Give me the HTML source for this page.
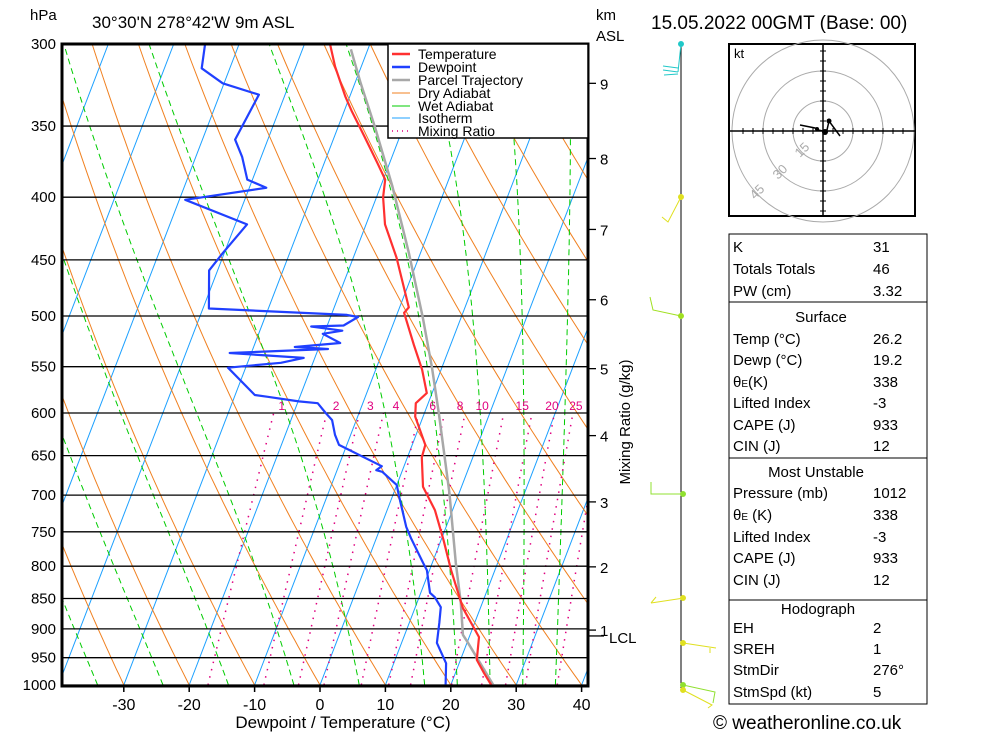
<!DOCTYPE html>
<html><head><meta charset="utf-8">
<style>
html,body{margin:0;padding:0;background:#fff;}
svg{display:block;font-family:"Liberation Sans",sans-serif;}
</style></head>
<body>
<svg id="chart" width="1000" height="733" viewBox="0 0 1000 733" xmlns="http://www.w3.org/2000/svg">
<defs><clipPath id="plotclip"><rect x="62" y="44" width="526" height="642"/></clipPath></defs>
<rect x="0" y="0" width="1000" height="733" fill="#fff"/>
<g id="bg" clip-path="url(#plotclip)"></g>
<g id="grid"></g>
<g id="series" clip-path="url(#plotclip)"></g>
<rect x="62" y="44" width="526" height="642" fill="none" stroke="#000" stroke-width="3"/>
<g id="axes"></g>

<g font-size="17">
<text x="30" y="20" font-size="15">hPa</text>
<text x="92" y="28">30°30'N  278°42'W  9m  ASL</text>
<text x="596" y="20" font-size="15">km</text>
<text x="596" y="41" font-size="15">ASL</text>
<text x="651" y="29" font-size="19">15.05.2022  00GMT  (Base: 00)</text>
</g>

<g font-size="14">
<rect x="388" y="44" width="200" height="94" fill="#fff" stroke="#000" stroke-width="1.5"/>
<line x1="392" y1="54" x2="410" y2="54" stroke="#ff3030" stroke-width="2.5"/><text x="418" y="59">Temperature</text>
<line x1="392" y1="67" x2="410" y2="67" stroke="#2040ff" stroke-width="2.5"/><text x="418" y="72">Dewpoint</text>
<line x1="392" y1="80" x2="410" y2="80" stroke="#a8a8a8" stroke-width="2.5"/><text x="418" y="85">Parcel Trajectory</text>
<line x1="392" y1="93" x2="410" y2="93" stroke="#f08020" stroke-width="1"/><text x="418" y="98">Dry Adiabat</text>
<line x1="392" y1="106" x2="410" y2="106" stroke="#00cc00" stroke-width="1"/><text x="418" y="111">Wet Adiabat</text>
<line x1="392" y1="118" x2="410" y2="118" stroke="#1ca0ff" stroke-width="1"/><text x="418" y="123">Isotherm</text>
<line x1="392" y1="131" x2="410" y2="131" stroke="#e0007f" stroke-width="1.5" stroke-dasharray="1,4"/><text x="418" y="136">Mixing Ratio</text>
</g>

<text transform="translate(630,422) rotate(-90)" text-anchor="middle" font-size="15">Mixing Ratio (g/kg)</text>

<g fill="none" stroke-width="1">
<line x1="681" y1="44" x2="681" y2="688" stroke="#000"/>
<g stroke="#20c8c8"><polyline points="681,44 678,72"/><polyline points="678,72 663,70"/><polyline points="678,68 663,66"/><polyline points="678,74 664,75"/><circle cx="681" cy="44" r="2.5" fill="#20c8c8"/></g>
<g stroke="#e0e020"><polyline points="681,197 668,222 662,217"/><circle cx="681" cy="197" r="2.5" fill="#e0e020"/></g>
<g stroke="#a0e020"><polyline points="681,316 653,310 650,297"/><circle cx="681" cy="316" r="2.5" fill="#a0e020"/></g>
<g stroke="#90e030"><polyline points="683,494 651,494 651,482"/><circle cx="683" cy="494" r="2.5" fill="#90e030"/></g>
<g stroke="#e0e020"><polyline points="684,598 651,603"/><polyline points="651,603 656,597"/><circle cx="683" cy="598" r="2.5" fill="#e0e020"/></g>
<g stroke="#e0e020"><polyline points="683,643 716,648"/><polyline points="710,648 710,653"/><circle cx="683" cy="643" r="2.5" fill="#e0e020"/></g>
<g stroke="#90e030"><polyline points="683,685 715,692 713,703"/><circle cx="683" cy="685" r="2.5" fill="#90e030"/></g>
<g stroke="#e0e020"><polyline points="683,690 712,705 708,708"/><circle cx="683" cy="690" r="2.5" fill="#e0e020"/></g>
</g>

<g>
<rect x="729" y="44" width="186" height="172" fill="#fff" stroke="#000" stroke-width="2"/>
<g fill="none" stroke="#aaa" stroke-width="1">
<circle cx="823" cy="131" r="30"/><circle cx="823" cy="131" r="60"/><circle cx="823" cy="131" r="91"/>
</g>
<line x1="729" y1="131" x2="915" y2="131" stroke="#000" stroke-width="1.5"/>
<line x1="823" y1="44" x2="823" y2="216" stroke="#000" stroke-width="1.5"/>
<g id="hodoticks" stroke="#000" stroke-width="1"></g>
<g fill="#aaa" font-size="13">
<text x="800" y="158" transform="rotate(-45 800 158)">15</text>
<text x="778" y="180" transform="rotate(-45 778 180)">30</text>
<text x="755" y="200" transform="rotate(-45 755 200)">45</text>
</g>
<text x="734" y="58" font-size="13">kt</text>
<polyline points="800,125 815,128 818,130 823,131 827,130 829,121 840,136" fill="none" stroke="#000" stroke-width="1.5"/>
<circle cx="829" cy="121" r="2.5" fill="#000"/><circle cx="825" cy="132" r="3" fill="#000"/><circle cx="817" cy="129" r="2" fill="#000"/>
</g>

<g font-size="15">
<rect x="729" y="234" width="198" height="68" fill="none" stroke="#000" stroke-width="1"/>
<rect x="729" y="302" width="198" height="156" fill="none" stroke="#000" stroke-width="1"/>
<rect x="729" y="458" width="198" height="142" fill="none" stroke="#000" stroke-width="1"/>
<rect x="729" y="600" width="198" height="104" fill="none" stroke="#000" stroke-width="1"/>
<text x="733" y="252">K</text><text x="873" y="252">31</text>
<text x="733" y="274">Totals Totals</text><text x="873" y="274">46</text>
<text x="733" y="296">PW (cm)</text><text x="873" y="296">3.32</text>
<text x="821" y="322" text-anchor="middle">Surface</text>
<text x="733" y="344">Temp (°C)</text><text x="873" y="344">26.2</text>
<text x="733" y="365">Dewp (°C)</text><text x="873" y="365">19.2</text>
<text x="733" y="387">θ<tspan font-size="10">E</tspan>(K)</text><text x="873" y="387">338</text>
<text x="733" y="408">Lifted Index</text><text x="873" y="408">-3</text>
<text x="733" y="430">CAPE (J)</text><text x="873" y="430">933</text>
<text x="733" y="451">CIN (J)</text><text x="873" y="451">12</text>
<text x="816" y="477" text-anchor="middle">Most Unstable</text>
<text x="733" y="498">Pressure (mb)</text><text x="873" y="498">1012</text>
<text x="733" y="520">θ<tspan font-size="10">E</tspan> (K)</text><text x="873" y="520">338</text>
<text x="733" y="542">Lifted Index</text><text x="873" y="542">-3</text>
<text x="733" y="563">CAPE (J)</text><text x="873" y="563">933</text>
<text x="733" y="585">CIN (J)</text><text x="873" y="585">12</text>
<text x="818" y="614" text-anchor="middle">Hodograph</text>
<text x="733" y="633">EH</text><text x="873" y="633">2</text>
<text x="733" y="654">SREH</text><text x="873" y="654">1</text>
<text x="733" y="675">StmDir</text><text x="873" y="675">276°</text>
<text x="733" y="697">StmSpd (kt)</text><text x="873" y="697">5</text>
</g>
<text x="713" y="729" font-size="19">© weatheronline.co.uk</text>
</svg>
<script>
const pressureLevels = [300,350,400,450,500,550,600,650,700,750,800,850,900,950,1000];
const tempTicks = [-30,-20,-10,0,10,20,30,40];
const kmTicks = [1,2,3,4,5,6,7,8,9];
const kmPressures = [902,801,709,626,552,485,425,372,323];
const mixingRatios = [1,2,3,4,6,8,10,15,20,25,30,40];
const mixingLabels = ["1","2","3","4","6","8","10","15","20","25"];
const tempP = [1000,978,954,914,865,806,762,720,689,652,637,604,589,578,553,528,497,492,448,421,400,387,375,357,340,331,313,300];
const tempT = [26.2,24.4,22.5,21.5,17.3,13.3,10.4,7.3,4.1,2.2,2.0,-1.2,-1.9,-0.8,-2.9,-5.6,-9.0,-8.6,-13.4,-17.1,-19.0,-19.7,-21.9,-25.4,-28.9,-30.7,-34.0,-36.1];
const dewP = [1000,960,924,890,864,848,841,806,795,759,743,700,687,670,668,663,637,625,608,600,589,587,582,580,551,546,541,536,532,530,526,517,514,510,509,501,499,493,459,444,421,402,393,387,371,359,330,323,314,300];
const dewT = [19.2,18.0,15.4,14.6,13.9,12.4,11.4,9.6,8.6,5.3,3.9,0.9,0.0,-3.0,-4.0,-3.4,-11.2,-12.4,-13.7,-15.1,-16.9,-19.9,-24.9,-27.0,-32.7,-24.9,-21.7,-33.3,-18.5,-23.7,-17.0,-20.2,-17.4,-22.4,-17.5,-15.8,-17.6,-39.1,-41.3,-40.2,-38.2,-49.1,-37.4,-40.8,-42.9,-45.0,-44.0,-50.2,-54.3,-55.2];
const parcelP = [1000,922,910,857,795,697,600,551,501,444,392,351,323,303];
const parcelT = [26.5,20.0,18.9,16.7,13.6,8.5,2.2,-1.5,-5.9,-11.8,-18.2,-24.3,-29.1,-32.6];
const wetStarts = [-34,-24,-14,-4,6,16,21,26,31,36];

const NS='http://www.w3.org/2000/svg';
function yP(p){return 44+Math.log(p/300)/Math.log(1000/300)*641;}
function xT(T,p){return 320+6.54*T+0.384*(685-yP(p));}
function mk(tag,attrs,parent){const e=document.createElementNS(NS,tag);for(const k in attrs)e.setAttribute(k,attrs[k]);parent.appendChild(e);return e;}
const bg=document.getElementById('bg'),grid=document.getElementById('grid'),series=document.getElementById('series'),axes=document.getElementById('axes');

for(let T=-130;T<=40;T+=10){
  const l=mk('line',{x1:xT(T,1000),y1:yP(1000),x2:xT(T,300),y2:yP(300),stroke:'#1ca0ff','stroke-width':1},bg);
  
  
}
for(let th=183.15;th<=553.15;th+=10){
  const pts=[];for(let p=1000;p>=300;p-=10){const T=th*Math.pow(p/1000,0.286)-273.15;pts.push(xT(T,p).toFixed(1)+','+yP(p).toFixed(1));}
  const l=mk('polyline',{points:pts.join(' '),fill:'none',stroke:'#f08020','stroke-width':1},bg);
  
  
}
for(const T0 of wetStarts){
  let T=T0+273.15;const pts=[];
  for(let p=1000;p>=300;p-=5){
    pts.push(xT(T-273.15,p).toFixed(1)+','+yP(p).toFixed(1));
    const tc=T-273.15;const es=6.112*Math.exp(17.67*tc/(tc+243.5));const rs=0.622*es/(p-es);
    const num=287*T+2.5e6*rs;const den=1004+2.5e6*2.5e6*rs*0.622/(287*T*T);
    T+= num/den/p*(-5);
  }
  const l=mk('polyline',{points:pts.join(' '),fill:'none',stroke:'#00cc00','stroke-width':1,'stroke-dasharray':'6,4'},bg);
  
  
}
function tw(w,p){const e=w*p/(622+w);const L=Math.log(e/6.112);return 243.5*L/(17.67-L);}
mixingRatios.forEach((w,i)=>{
  const pts=[];for(let p=1000;p>=600;p-=10){pts.push(xT(tw(w,p),p).toFixed(1)+','+yP(p).toFixed(1));}
  const l=mk('polyline',{points:pts.join(' '),fill:'none',stroke:'#e0007f','stroke-width':1.5,'stroke-dasharray':'1.5,6'},bg);
  
  
  if(i<mixingLabels.length){
    const t=mk('text',{x:xT(tw(w,600),600)+8+i*1.5,y:yP(600)-3,'font-size':12,fill:'#e0007f','text-anchor':'middle'},series);
    t.textContent=mixingLabels[i];
    
    
  }
});
pressureLevels.forEach(p=>{
  const y=yP(p);
  const l=mk('line',{x1:62,y1:y,x2:588,y2:y,stroke:'#000','stroke-width':1.3},grid);
  
  
  const t=mk('text',{x:56,y:y+5,'font-size':15,'text-anchor':'end'},axes);
  t.textContent=p;
  
  
});
tempTicks.forEach(T=>{
  const x=xT(T,1000);
  mk('line',{x1:x,y1:686,x2:x,y2:692,stroke:'#000','stroke-width':1.5},axes);
  const t=mk('text',{x:x,y:710,'font-size':16,'text-anchor':'middle'},axes);
  t.textContent=T;
  
  
});
const xt=mk('text',{x:343,y:728,'font-size':17,'text-anchor':'middle'},axes);
xt.textContent='Dewpoint / Temperature (°C)';


kmTicks.forEach((k,i)=>{
  const y=yP(kmPressures[i]);
  mk('line',{x1:588,y1:y,x2:596,y2:y,stroke:'#000','stroke-width':1.3},axes);
  const t=mk('text',{x:600,y:y+6,'font-size':15},axes);
  t.textContent=k;
  
  
});
mk('line',{x1:588,y1:yP(912),x2:604,y2:yP(912),stroke:'#000','stroke-width':1.3},axes);
const lcl=mk('text',{x:609,y:yP(912)+7,'font-size':15},axes);
lcl.textContent='LCL';


function line(P,T,color,w,name){
  const pts=P.map((p,i)=>xT(T[i],p).toFixed(1)+','+yP(p).toFixed(1)).join(' ');
  const l=mk('polyline',{points:pts,fill:'none',stroke:color,'stroke-width':w,'stroke-linejoin':'round'},series);
  
  
}
line(parcelP,parcelT,'#a8a8a8',2.5,'parcel-trajectory-line');
line(dewP,dewT,'#2040ff',2.2,'dewpoint-line');
line(tempP,tempT,'#ff3030',2.2,'temperature-line');
const ht=document.getElementById('hodoticks');
for(let i=-8;i<=8;i++){if(i===0)continue;
  mk('line',{x1:823+i*10,y1:128,x2:823+i*10,y2:134},ht);
  mk('line',{x1:820,y1:131+i*10,x2:826,y2:131+i*10},ht);
}
</script>
</body></html>
